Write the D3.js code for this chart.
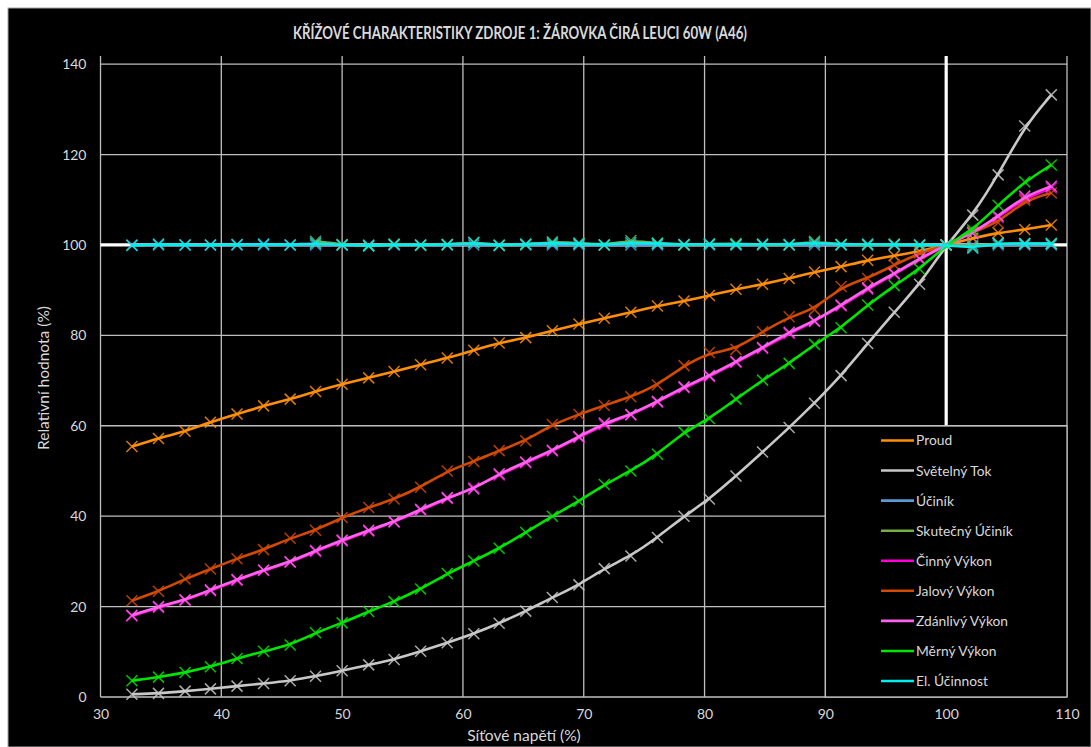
<!DOCTYPE html>
<html>
<head>
<meta charset="utf-8">
<script src="https://cdn.jsdelivr.net/npm/d3@7"></script>
<style>
  html, body { margin: 0; padding: 0; background: #ffffff; }
  svg { display: block; }
  text { font-family: Lato, "Open Sans", "DejaVu Sans", sans-serif; fill: #d9d9d9; }
</style>
</head>
<body>
<svg id="chart" width="1091" height="747"></svg>
<script>
// Síťové napětí v % jmenovitého (230 V)
const napeti = [32.6, 34.8, 37.0, 39.1, 41.3, 43.5, 45.7, 47.8, 50.0, 52.2, 54.3, 56.5,
  58.7, 60.9, 63.0, 65.2, 67.4, 69.6, 71.7, 73.9, 76.1, 78.3, 80.4, 82.6,
  84.8, 87.0, 89.1, 91.3, 93.5, 95.7, 97.8, 100.0, 102.2, 104.3, 106.5, 108.7];

const proud = [55.4, 57.2, 58.8, 60.8, 62.6, 64.4, 65.9, 67.6, 69.2, 70.6, 72.0, 73.5,
  75.0, 76.7, 78.3, 79.5, 81.0, 82.5, 83.8, 85.1, 86.5, 87.6, 88.8, 90.2,
  91.3, 92.6, 94.0, 95.2, 96.6, 97.6, 98.6, 100.0, 101.5, 102.7, 103.4, 104.4];

const svetelnyTok = [0.6, 0.8, 1.3, 1.8, 2.4, 3.0, 3.6, 4.6, 5.8, 7.1, 8.3, 10.1,
  12.0, 14.0, 16.3, 19.0, 22.0, 24.8, 28.4, 31.2, 35.3, 40.0, 43.8, 48.9,
  54.2, 59.6, 65.0, 71.1, 78.2, 85.1, 91.3, 100.0, 106.6, 115.5, 126.3, 133.2];

const ucinik = [100.0, 100.0, 100.0, 100.0, 100.0, 100.0, 100.0, 100.0, 100.0, 100.0, 100.0, 100.0,
  100.0, 100.0, 100.0, 100.0, 100.0, 100.0, 100.0, 100.0, 100.0, 100.0, 100.0, 100.0,
  100.0, 100.0, 100.0, 100.0, 100.0, 100.0, 100.0, 100.0, 100.0, 100.0, 100.0, 100.0];

const skutecnyUcinik = [null, null, null, null, null, null, null, 100.8, 100.1, 99.8, 100.2, 99.9,
  100.1, 100.6, 99.9, 100.1, 100.7, 100.4, 100.0, 101.0, 100.4, 100.0, 100.2, 100.3,
  100.1, 100.0, 100.8, 100.1, 100.0, 100.2, 99.9, 100.0, 99.6, 100.4, 100.3, 100.3];

const cinnyVykon = [17.9, 19.8, 21.4, 23.5, 25.8, 28.0, 29.8, 32.2, 34.5, 36.7, 38.7, 41.3,
  43.9, 46.3, 49.1, 51.8, 54.4, 57.4, 60.3, 62.4, 65.2, 68.4, 70.9, 74.0,
  77.1, 80.4, 83.1, 86.5, 90.2, 93.5, 96.8, 100.0, 102.8, 106.1, 110.3, 112.6];

const jalovyVykon = [21.3, 23.4, 26.1, 28.3, 30.6, 32.6, 35.1, 36.9, 39.7, 41.9, 43.8, 46.4,
  50.0, 52.1, 54.5, 56.7, 60.3, 62.5, 64.5, 66.4, 69.0, 73.3, 76.2, 76.9,
  80.8, 84.1, 85.7, 90.8, 92.6, 95.6, 98.2, 100.0, 102.9, 104.9, 109.9, 111.5];

const zdanlivyVykon = [18.1, 20.0, 21.5, 23.7, 26.0, 28.1, 29.9, 32.4, 34.7, 36.9, 38.8, 41.5,
  44.1, 46.0, 49.4, 52.0, 54.6, 57.6, 60.6, 62.5, 65.4, 68.6, 71.1, 74.2,
  77.3, 80.7, 83.2, 86.7, 90.5, 93.7, 97.0, 100.0, 102.6, 106.4, 110.8, 113.0];

const mernyVykon = [3.6, 4.4, 5.4, 6.7, 8.5, 10.1, 11.5, 14.2, 16.4, 18.9, 21.1, 23.9,
  27.3, 30.1, 32.9, 36.4, 40.0, 43.3, 47.0, 50.0, 53.7, 58.6, 61.6, 65.9,
  70.1, 73.8, 78.0, 81.7, 86.7, 91.0, 94.7, 100.0, 103.3, 108.8, 114.0, 117.7];

const elUcinnost = [99.9, 100.2, 100.0, 100.0, 100.1, 100.2, 100.0, 100.4, 100.0, 99.8, 100.1, 100.0,
  100.1, 100.5, 99.9, 100.2, 100.4, 100.3, 100.0, 100.5, 100.3, 100.1, 100.2, 100.1,
  100.2, 100.1, 100.5, 100.1, 100.2, 100.1, 100.0, 100.0, 99.3, 100.4, 100.3, 100.3];

const seriesNames = ["Proud", "Světelný Tok", "Účiník", "Skutečný Účiník", "Činný Výkon",
  "Jalový Výkon", "Zdánlivý Výkon", "Měrný Výkon", "El. Účinnost"];
const seriesValues = [proud, svetelnyTok, ucinik, skutecnyUcinik, cinnyVykon,
  jalovyVykon, zdanlivyVykon, mernyVykon, elUcinnost];
const seriesColors = ["#ff8f0a", "#c8c8c8", "#5b9bd5", "#76b044", "#ff00d8",
  "#d24a04", "#ff62ee", "#00e600", "#00eeee"];

const xTicks = [30, 40, 50, 60, 70, 80, 90, 100, 110];
const yTicks = [0, 20, 40, 60, 80, 100, 120, 140];

const titleText = "KŘÍŽOVÉ CHARAKTERISTIKY ZDROJE 1: ŽÁROVKA ČIRÁ LEUCI 60W (A46)";
const xTitle = "Síťové napětí (%)";
const yTitle = "Relativní hodnota (%)";

// ---- layout ----
const W = 1091, H = 747;
const plot = { left: 100.5, right: 1067, top: 56, bottom: 697 };
const gridColor = "#bfbfbf";
const fontStack = "Lato, 'Open Sans', sans-serif";

const svg = d3.select("#chart");

// white page margin, black chart area
svg.append("rect").attr("x", 0).attr("y", 0).attr("width", W).attr("height", H).attr("fill", "#ffffff");
svg.append("rect").attr("x", 8).attr("y", 8).attr("width", W - 8).attr("height", H - 8)
  .attr("fill", "#000000").attr("stroke", "#a6a6a6").attr("stroke-width", 1);

const x = d3.scaleLinear().domain([30, 110]).range([plot.left, plot.right]);
const y = d3.scaleLinear().domain([0, 141.8]).range([plot.bottom, plot.top]);

// grid
const grid = svg.append("g");
grid.selectAll("line.h").data(yTicks).join("line")
  .attr("x1", plot.left).attr("x2", plot.right)
  .attr("y1", d => y(d)).attr("y2", d => y(d))
  .attr("stroke", gridColor).attr("stroke-width", 1.3);
grid.selectAll("line.v").data(xTicks).join("line")
  .attr("x1", d => x(d)).attr("x2", d => x(d))
  .attr("y1", plot.top).attr("y2", plot.bottom)
  .attr("stroke", gridColor).attr("stroke-width", 1.3);

// nominal point cross (100 % / 100 %)
svg.append("line").attr("x1", x(100)).attr("x2", x(100)).attr("y1", plot.top).attr("y2", plot.bottom)
  .attr("stroke", "#ffffff").attr("stroke-width", 3.2);
svg.append("line").attr("x1", plot.left).attr("x2", plot.right).attr("y1", y(100)).attr("y2", y(100))
  .attr("stroke", "#ffffff").attr("stroke-width", 3.2);

// axes labels
const xAxis = d3.axisBottom(x).tickValues(xTicks).tickSize(0).tickPadding(12);
const gx = svg.append("g").attr("transform", `translate(0,${plot.bottom})`).call(xAxis);
gx.select(".domain").remove();
gx.selectAll("text").attr("font-size", 14).attr("fill", "#d9d9d9").attr("font-family", fontStack);

const yAxis = d3.axisLeft(y).tickValues(yTicks).tickSize(0).tickPadding(14);
const gy = svg.append("g").attr("transform", `translate(${plot.left},0)`).call(yAxis);
gy.select(".domain").remove();
gy.selectAll("text").attr("font-size", 14).attr("fill", "#d9d9d9").attr("font-family", fontStack);

// series: smoothed line with X markers
const line = d3.line()
  .defined(d => d[1] != null)
  .x(d => x(d[0])).y(d => y(d[1]))
  .curve(d3.curveBasis);
const cross = "M-5.5,-5.5L5.5,5.5M-5.5,5.5L5.5,-5.5";

const seriesLayer = svg.append("g");
seriesValues.forEach((vals, i) => {
  const pts = napeti.map((v, j) => [v, vals[j]]).filter(p => p[1] != null);
  const g = seriesLayer.append("g");
  g.append("path").datum(pts).attr("d", line)
    .attr("fill", "none").attr("stroke", seriesColors[i]).attr("stroke-width", 2.6)
    .attr("stroke-linejoin", "round");
  g.selectAll("path.m").data(pts).join("path")
    .attr("class", "m")
    .attr("transform", d => `translate(${x(d[0])},${y(d[1])})`)
    .attr("d", cross)
    .attr("fill", "none").attr("stroke", seriesColors[i]).attr("stroke-width", 1.5)
    .attr("opacity", 0.85);
});

// legend
const legend = { left: x(90), right: plot.right, top: 426, bottom: plot.bottom };
svg.append("rect")
  .attr("x", legend.left).attr("y", legend.top)
  .attr("width", legend.right - legend.left).attr("height", legend.bottom - legend.top)
  .attr("fill", "#000000").attr("stroke", gridColor).attr("stroke-width", 1.3);
const rowY = d3.scalePoint().domain(seriesNames).range([440.5, 681]);
const lg = svg.append("g");
seriesNames.forEach((name, i) => {
  const yy = rowY(name);
  lg.append("line").attr("x1", 881).attr("x2", 914).attr("y1", yy).attr("y2", yy)
    .attr("stroke", seriesColors[i]).attr("stroke-width", 2.6);
  lg.append("text").attr("x", 916).attr("y", yy).attr("dy", "0.36em")
    .attr("font-size", 13.8).text(name);
});

// titles
svg.append("text").attr("x", 293).attr("y", 38.5)
  .attr("font-size", 16.5).attr("font-weight", "bold")
  .attr("textLength", 454).attr("lengthAdjust", "spacingAndGlyphs")
  .text(titleText);

svg.append("text").attr("x", 524).attr("y", 741).attr("text-anchor", "middle")
  .attr("font-size", 15.5).text(xTitle);

svg.append("text").attr("transform", "translate(49,378) rotate(-90)")
  .attr("text-anchor", "middle").attr("font-size", 15.5).text(yTitle);
</script>
</body>
</html>
